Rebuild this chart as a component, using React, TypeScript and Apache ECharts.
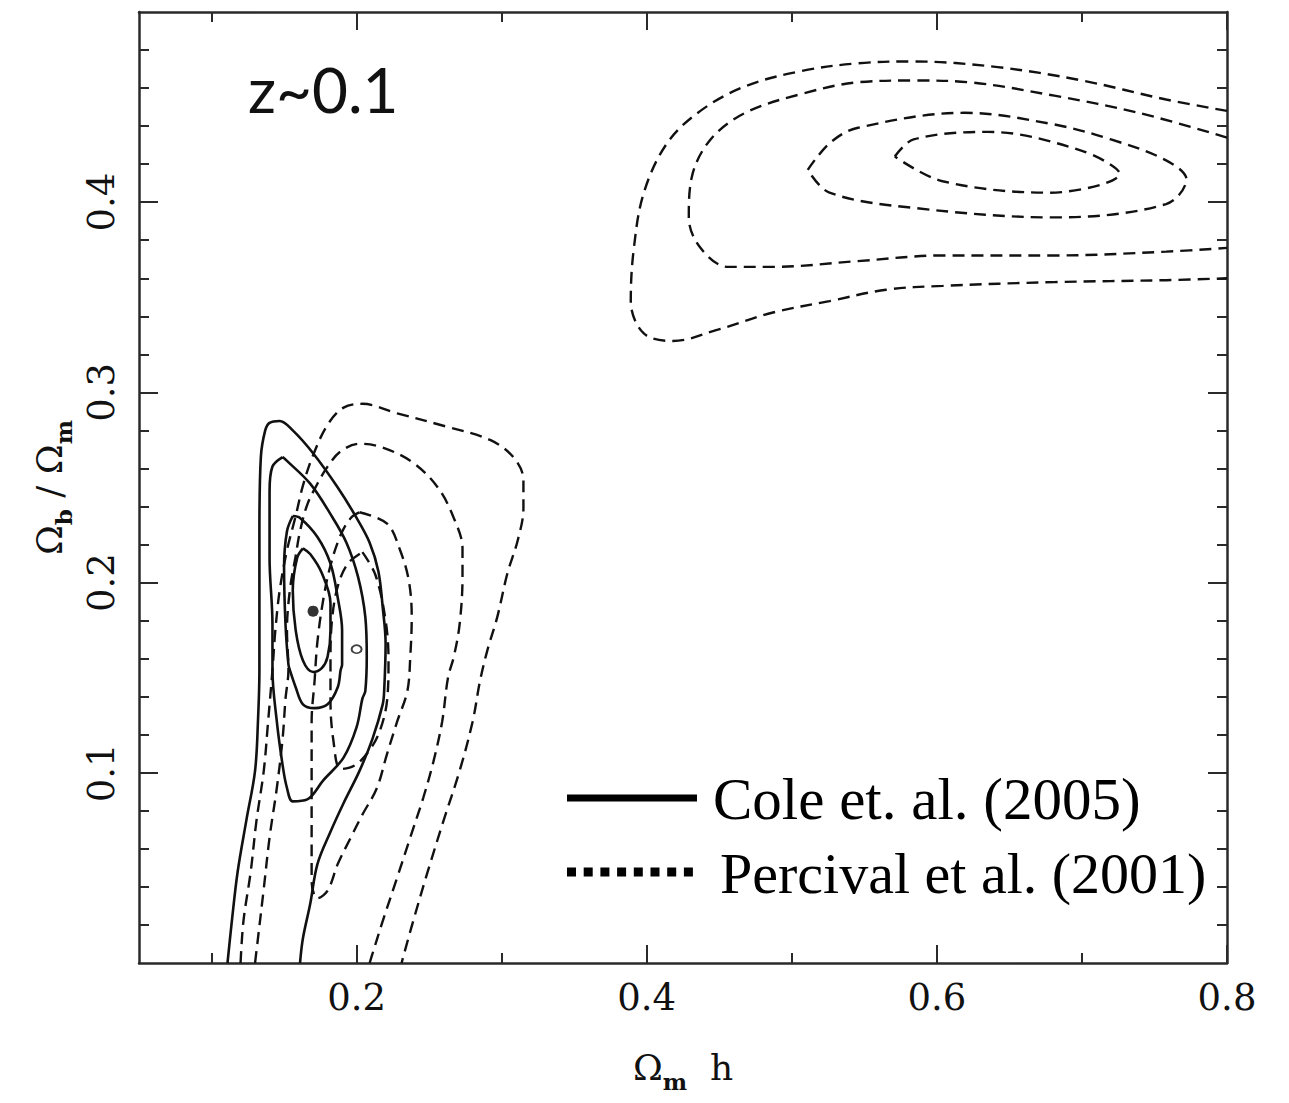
import React, { useEffect, useRef } from "react";
import * as echarts from "echarts";

// ---- axis ticks ----
const xMajorTicks = [0.2, 0.4, 0.6, 0.8];
const xMinorTicks = [0.1, 0.3, 0.5, 0.7];
const yMajorTicks = [0.1, 0.2, 0.3, 0.4];
const yMinorTicks = [0.02, 0.04, 0.06, 0.08, 0.12, 0.14, 0.16, 0.18, 0.22, 0.24, 0.26, 0.28, 0.32, 0.34, 0.36, 0.38, 0.42, 0.44, 0.46, 0.48];

// ---- Cole et al. (2005) contours (solid) ----
const cole1 = [[0.111,0.000],[0.114,0.022],[0.118,0.048],[0.124,0.075],[0.130,0.101],[0.132,0.127],[0.133,0.154],[0.133,0.191],[0.133,0.227],[0.134,0.266],[0.137,0.280],[0.140,0.284],[0.147,0.285],[0.156,0.280],[0.170,0.268],[0.187,0.250],[0.200,0.234],[0.209,0.221],[0.215,0.206],[0.218,0.187],[0.220,0.168],[0.219,0.143],[0.218,0.136],[0.211,0.118],[0.202,0.101],[0.191,0.084],[0.182,0.069],[0.173,0.052],[0.168,0.031],[0.163,0.013],[0.161,0.000]];
const cole2 = [[0.149,0.266],[0.152,0.264],[0.168,0.252],[0.182,0.236],[0.193,0.221],[0.201,0.203],[0.206,0.182],[0.207,0.161],[0.206,0.143],[0.204,0.139],[0.200,0.124],[0.191,0.108],[0.177,0.096],[0.166,0.086],[0.156,0.085],[0.152,0.092],[0.149,0.104],[0.145,0.127],[0.142,0.154],[0.142,0.178],[0.140,0.213],[0.140,0.248],[0.142,0.261],[0.149,0.266]];
const cole3 = [[0.156,0.235],[0.161,0.234],[0.173,0.224],[0.182,0.210],[0.187,0.192],[0.190,0.175],[0.190,0.157],[0.189,0.154],[0.187,0.145],[0.180,0.136],[0.171,0.134],[0.163,0.136],[0.158,0.145],[0.154,0.154],[0.153,0.157],[0.151,0.178],[0.150,0.208],[0.152,0.227],[0.156,0.235]];
const cole4 = [[0.163,0.218],[0.168,0.215],[0.176,0.205],[0.182,0.189],[0.182,0.175],[0.180,0.161],[0.176,0.155],[0.170,0.153],[0.163,0.159],[0.158,0.175],[0.156,0.196],[0.159,0.213],[0.163,0.218]];
const coleBest = [[0.170, 0.185]];

// ---- Percival et al. (2001) contours (dashed), low-Omega_m h region ----
const perc1 = [[0.120,0.000],[0.122,0.022],[0.127,0.048],[0.131,0.075],[0.136,0.101],[0.139,0.127],[0.142,0.154],[0.144,0.175],[0.147,0.196],[0.152,0.217],[0.158,0.235],[0.163,0.251],[0.170,0.267],[0.180,0.283],[0.191,0.292],[0.204,0.294],[0.228,0.289],[0.262,0.282],[0.292,0.275],[0.308,0.266],[0.315,0.254],[0.315,0.239],[0.311,0.222],[0.304,0.205],[0.297,0.182],[0.290,0.164],[0.285,0.148],[0.280,0.127],[0.271,0.101],[0.260,0.075],[0.249,0.048],[0.239,0.022],[0.231,0.000]];
const perc2 = [[0.130,0.000],[0.132,0.013],[0.136,0.039],[0.140,0.066],[0.145,0.092],[0.149,0.118],[0.151,0.139],[0.153,0.154],[0.152,0.175],[0.154,0.196],[0.158,0.214],[0.161,0.227],[0.166,0.241],[0.173,0.252],[0.180,0.261],[0.189,0.269],[0.202,0.273],[0.218,0.271],[0.239,0.263],[0.256,0.250],[0.267,0.234],[0.273,0.218],[0.273,0.203],[0.271,0.178],[0.267,0.161],[0.263,0.150],[0.259,0.127],[0.253,0.106],[0.246,0.087],[0.237,0.066],[0.228,0.045],[0.218,0.022],[0.211,0.005],[0.209,0.000]];
const perc3 = [[0.202,0.237],[0.221,0.231],[0.230,0.217],[0.236,0.201],[0.238,0.182],[0.237,0.161],[0.235,0.143],[0.228,0.127],[0.221,0.110],[0.214,0.092],[0.204,0.078],[0.196,0.066],[0.187,0.052],[0.180,0.038],[0.173,0.034],[0.169,0.043],[0.169,0.069],[0.169,0.096],[0.169,0.127],[0.171,0.148],[0.173,0.169],[0.177,0.191],[0.182,0.209],[0.189,0.225],[0.196,0.234],[0.202,0.237]];
const perc4 = [[0.204,0.216],[0.213,0.204],[0.220,0.180],[0.222,0.159],[0.221,0.138],[0.216,0.122],[0.209,0.112],[0.199,0.104],[0.189,0.102],[0.184,0.117],[0.182,0.138],[0.182,0.159],[0.183,0.180],[0.187,0.198],[0.194,0.210],[0.204,0.216]];
const percBest = [[0.200, 0.165]];

// ---- Percival et al. (2001) contours (dashed), high-Omega_m h region ----
const percHi1 = [[0.800,0.448],[0.758,0.454],[0.700,0.464],[0.642,0.471],[0.584,0.474],[0.545,0.473],[0.507,0.469],[0.468,0.461],[0.437,0.448],[0.414,0.431],[0.398,0.405],[0.391,0.375],[0.389,0.348],[0.398,0.331],[0.418,0.327],[0.449,0.333],[0.487,0.342],[0.526,0.348],[0.565,0.354],[0.604,0.356],[0.681,0.358],[0.758,0.359],[0.800,0.360]];
const percHi2 = [[0.800,0.434],[0.739,0.447],[0.681,0.456],[0.623,0.463],[0.584,0.464],[0.545,0.463],[0.507,0.457],[0.468,0.447],[0.444,0.433],[0.431,0.413],[0.429,0.392],[0.437,0.376],[0.456,0.366],[0.487,0.366],[0.545,0.369],[0.604,0.372],[0.681,0.372],[0.758,0.374],[0.800,0.376]];
const percHi3 = [[0.511,0.417],[0.526,0.431],[0.545,0.439],[0.619,0.447],[0.680,0.441],[0.720,0.433],[0.758,0.422],[0.772,0.412],[0.758,0.399],[0.681,0.392],[0.584,0.397],[0.526,0.405],[0.511,0.417]];
const percHi4 = [[0.571,0.424],[0.584,0.433],[0.635,0.437],[0.700,0.427],[0.726,0.415],[0.678,0.405],[0.604,0.411],[0.571,0.424]];

const SERIF = '"DejaVu Serif", serif';
const FRAME = "#2a2a2a";

function contour(name: string, data: number[][], dashed: boolean) {
  return {
    type: "line",
    name,
    data,
    xAxisIndex: 0,
    yAxisIndex: 0,
    smooth: 0.35,
    showSymbol: false,
    symbol: "none",
    silent: true,
    lineStyle: {
      color: "#111",
      width: dashed ? 2.4 : 2.6,
      type: dashed ? [12, 7] : "solid",
    },
    z: 3,
  };
}

function xAxisDef(position: string, ticks: number[], len: number, showLine: boolean, showLabel: boolean) {
  return {
    type: "value",
    gridIndex: 0,
    position,
    min: 0.05,
    max: 0.8,
    splitLine: { show: false },
    axisLine: { show: showLine, onZero: false, lineStyle: { color: FRAME, width: 2.5 } },
    axisTick: { show: true, inside: true, length: len, customValues: ticks, lineStyle: { color: FRAME, width: 2 } },
    axisLabel: showLabel
      ? { show: true, customValues: ticks, formatter: (v: number) => v.toFixed(1), fontFamily: SERIF, fontSize: 37, color: "#111", margin: 16 }
      : { show: false },
  };
}

function yAxisDef(position: string, ticks: number[], len: number, showLine: boolean, showLabel: boolean) {
  return {
    type: "value",
    gridIndex: 0,
    position,
    min: 0,
    max: 0.5,
    splitLine: { show: false },
    axisLine: { show: showLine, onZero: false, lineStyle: { color: FRAME, width: 2.5 } },
    axisTick: { show: true, inside: true, length: len, customValues: ticks, lineStyle: { color: FRAME, width: 2 } },
    axisLabel: showLabel
      ? { show: true, rotate: 90, customValues: ticks, formatter: (v: number) => v.toFixed(1), fontFamily: SERIF, fontSize: 37, color: "#111", margin: 19 }
      : { show: false },
  };
}

const nameRich = {
  o: { fontFamily: SERIF, fontSize: 36, lineHeight: 36, verticalAlign: "top", color: "#111" },
  s: { fontFamily: SERIF, fontSize: 23, lineHeight: 23, fontWeight: "bold", padding: [21, 0, 0, 0], verticalAlign: "top", color: "#111" },
};

export default function App() {
  const ref = useRef<HTMLDivElement>(null);

  useEffect(() => {
    document.body.style.margin = "0";
    if (!ref.current) return;
    const chart = echarts.init(ref.current, null, { renderer: "svg" });

    const xMain: any = xAxisDef("bottom", xMajorTicks, 18, true, true);
    xMain.name = "{o|Ω}{s|m}{o|  h}";
    xMain.nameLocation = "middle";
    xMain.nameGap = 86;
    xMain.nameTextStyle = { rich: nameRich };

    const yMain: any = yAxisDef("left", yMajorTicks, 19, true, true);
    yMain.name = "{o|Ω}{s|b}{o| / Ω}{s|m}";
    yMain.nameLocation = "middle";
    yMain.nameRotate = 90;
    yMain.nameGap = 66;
    yMain.nameTextStyle = { rich: nameRich };

    const option: any = {
      animation: false,
      backgroundColor: "#ffffff",
      grid: { left: 139, right: 62, top: 12, bottom: 140, containLabel: false, outerBoundsMode: "none" },
      xAxis: [
        xMain,
        xAxisDef("bottom", xMinorTicks, 10, false, false),
        xAxisDef("top", xMajorTicks, 18, true, false),
        xAxisDef("top", xMinorTicks, 10, false, false),
      ],
      yAxis: [
        yMain,
        yAxisDef("left", yMinorTicks, 10, false, false),
        yAxisDef("right", yMajorTicks, 19, true, false),
        yAxisDef("right", yMinorTicks, 10, false, false),
      ],
      series: [
        contour("Cole et. al. (2005)", cole1, false),
        contour("Cole et. al. (2005) 2", cole2, false),
        contour("Cole et. al. (2005) 3", cole3, false),
        contour("Cole et. al. (2005) 4", cole4, false),
        contour("Percival et al. (2001)", perc1, true),
        contour("Percival et al. (2001) 2", perc2, true),
        contour("Percival et al. (2001) 3", perc3, true),
        contour("Percival et al. (2001) 4", perc4, true),
        contour("Percival et al. (2001) hi 1", percHi1, true),
        contour("Percival et al. (2001) hi 2", percHi2, true),
        contour("Percival et al. (2001) hi 3", percHi3, true),
        contour("Percival et al. (2001) hi 4", percHi4, true),
        {
          type: "scatter",
          name: "Cole best fit",
          data: coleBest,
          symbol: "circle",
          symbolSize: 11,
          itemStyle: { color: "#000" },
          silent: true,
          z: 4,
        },
        {
          type: "scatter",
          name: "Percival best fit",
          data: percBest,
          symbol: "circle",
          symbolSize: [10, 8],
          itemStyle: { color: "#fff", borderColor: "#111", borderWidth: 1.8 },
          silent: true,
          z: 4,
        },
      ],
      graphic: [
        {
          type: "text",
          left: 248,
          top: 58,
          style: { text: "z~0.1", fontFamily: "Lato, sans-serif", fontWeight: 400, fontSize: 62, fill: "#111" },
          silent: true,
        },
        {
          type: "line",
          shape: { x1: 567, y1: 798, x2: 697, y2: 798 },
          style: { stroke: "#000", lineWidth: 7 },
          silent: true,
        },
        {
          type: "line",
          shape: { x1: 567, y1: 872, x2: 697, y2: 872 },
          style: { stroke: "#000", lineWidth: 9, lineDash: [9, 7.7] },
          silent: true,
        },
        {
          type: "text",
          x: 713,
          y: 799,
          style: { text: "Cole et. al. (2005)", fontFamily: '"Liberation Serif", serif', fontSize: 59, fill: "#000", verticalAlign: "middle" },
          silent: true,
        },
        {
          type: "text",
          x: 720,
          y: 873,
          style: { text: "Percival et al. (2001)", fontFamily: '"Liberation Serif", serif', fontSize: 58, fill: "#000", verticalAlign: "middle" },
          silent: true,
        },
      ],
    };

    chart.setOption(option);
    return () => chart.dispose();
  }, []);

  return <div ref={ref} style={{ width: 1289, height: 1103, display: "block" }} />;
}
